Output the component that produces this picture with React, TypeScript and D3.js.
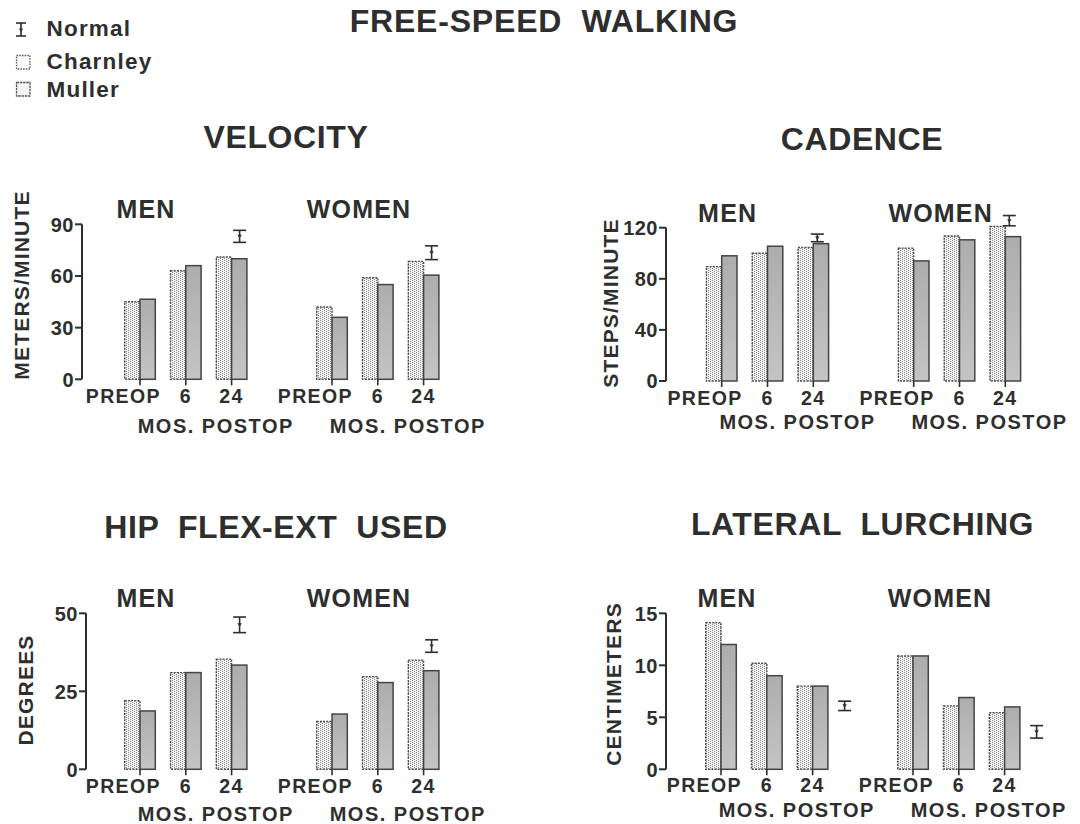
import React from "react";
import * as d3 from "d3";

// ---------- DATA ----------
const categories = ["PREOP", "6", "24"];
const groups = ["MEN", "WOMEN"];
const series = ["Normal", "Charnley", "Muller"];

// Velocity (meters/minute)
const velocityTicks = [0, 30, 60, 90];
const velocityCharnleyMen = [45, 63, 71];
const velocityMullerMen = [46.5, 66, 70];
const velocityCharnleyWomen = [42, 59, 68.5];
const velocityMullerWomen = [36, 55, 60.5];
const velocityNormalMean = [83, 73.5];
const velocityNormalSd = [3.5, 4];

// Cadence (steps/minute)
const cadenceTicks = [0, 40, 80, 120];
const cadenceCharnleyMen = [89.5, 100, 104.5];
const cadenceMullerMen = [98, 105.5, 107.5];
const cadenceCharnleyWomen = [104, 113.5, 121];
const cadenceMullerWomen = [94, 110.5, 113];
const cadenceNormalMean = [112, 125.5];
const cadenceNormalSd = [3, 4];

// Hip flex-ext used (degrees)
const hipTicks = [0, 25, 50];
const hipCharnleyMen = [22, 31, 35.3];
const hipMullerMen = [18.7, 31, 33.4];
const hipCharnleyWomen = [15.3, 29.7, 35];
const hipMullerWomen = [17.7, 27.8, 31.6];
const hipNormalMean = [46.3, 39.5];
const hipNormalSd = [2.5, 2];

// Lateral lurching (centimeters)
const lurchTicks = [0, 5, 10, 15];
const lurchCharnleyMen = [14.1, 10.2, 8];
const lurchMullerMen = [12, 9, 8];
const lurchCharnleyWomen = [10.9, 6.1, 5.45];
const lurchMullerWomen = [10.9, 6.9, 6];
const lurchNormalMean = [6.1, 3.6];
const lurchNormalSd = [0.45, 0.6];

// ---------- LAYOUT / STYLE ----------
const FONT = "'Liberation Sans', Arial, Helvetica, sans-serif";
const INK = "#2e2e2e";
const BAR_W = 15.3;
const STEP = 45.8;
const WOMEN_SHIFT = 192;

type Panel = {
  title: string;
  titleX: number;
  titleY: number;
  yLabel: string;
  yLabelX: number;
  yLabelY: number;
  axisX: number;
  y0: number;
  yTop: number;
  ticks: number[];
  men0: number;
  tickLabelDy: number;
  mosDy: number;
  normalDx: number;
  charnley: number[][];
  muller: number[][];
  normalMean: number[];
  normalSd: number[];
};

const panels: Panel[] = [
  {
    title: "VELOCITY", titleX: 286, titleY: 148,
    yLabel: "METERS/MINUTE", yLabelX: 21.7, yLabelY: 285,
    axisX: 82, y0: 379.3, yTop: 224.3, ticks: velocityTicks, men0: 140,
    tickLabelDy: 23.5, mosDy: 54, normalDx: 8,
    charnley: [velocityCharnleyMen, velocityCharnleyWomen],
    muller: [velocityMullerMen, velocityMullerWomen],
    normalMean: velocityNormalMean, normalSd: velocityNormalSd,
  },
  {
    title: "CADENCE", titleX: 862, titleY: 150,
    yLabel: "STEPS/MINUTE", yLabelX: 610, yLabelY: 303,
    axisX: 666, y0: 381, yTop: 227.7, ticks: cadenceTicks, men0: 721.7,
    tickLabelDy: 24, mosDy: 47.5, normalDx: 4,
    charnley: [cadenceCharnleyMen, cadenceCharnleyWomen],
    muller: [cadenceMullerMen, cadenceMullerWomen],
    normalMean: cadenceNormalMean, normalSd: cadenceNormalSd,
  },
  {
    title: "HIP  FLEX-EXT  USED", titleX: 276, titleY: 538,
    yLabel: "DEGREES", yLabelX: 25, yLabelY: 690,
    axisX: 86, y0: 769.3, yTop: 613.3, ticks: hipTicks, men0: 140,
    tickLabelDy: 23.5, mosDy: 51.5, normalDx: 8,
    charnley: [hipCharnleyMen, hipCharnleyWomen],
    muller: [hipMullerMen, hipMullerWomen],
    normalMean: hipNormalMean, normalSd: hipNormalSd,
  },
  {
    title: "LATERAL  LURCHING", titleX: 862.5, titleY: 535,
    yLabel: "CENTIMETERS", yLabelX: 613, yLabelY: 684,
    axisX: 666, y0: 769.3, yTop: 613.3, ticks: lurchTicks, men0: 721,
    tickLabelDy: 22.5, mosDy: 47.5, normalDx: 32,
    charnley: [lurchCharnleyMen, lurchCharnleyWomen],
    muller: [lurchMullerMen, lurchMullerWomen],
    normalMean: lurchNormalMean, normalSd: lurchNormalSd,
  },
];

function ErrorBar({ x, yHi, yLo, yMid, half }: { x: number; yHi: number; yLo: number; yMid: number; half: number }) {
  return (
    <g stroke={INK} strokeWidth={1.6} fill="none">
      <line x1={x} x2={x} y1={yHi} y2={yLo} />
      <line x1={x - half} x2={x + half} y1={yHi} y2={yHi} />
      <line x1={x - half} x2={x + half} y1={yLo} y2={yLo} />
      <path d={`M${x - 2.2},${yMid - 1.5} L${x + 2.2},${yMid - 1.5} L${x},${yMid + 1.8} Z`} fill={INK} stroke="none" />
    </g>
  );
}

function PanelView({ p }: { p: Panel }) {
  const max = p.ticks[p.ticks.length - 1];
  const y = d3.scaleLinear().domain([0, max]).range([p.y0, p.yTop]);
  const xs = groups.map((_, gi) =>
    d3.scalePoint<string>().domain(categories).range([p.men0 + gi * WOMEN_SHIFT, p.men0 + gi * WOMEN_SHIFT + 2 * STEP])
  );
  const capH = 0.716 * 21;
  return (
    <g>
      <text x={p.titleX} y={p.titleY} textAnchor="middle" fontSize={32} fontWeight="bold" fill={INK}
        letterSpacing={0.6} style={{ whiteSpace: "pre" }}>{p.title}</text>
      <text transform={`translate(${p.yLabelX + capH / 2},${p.yLabelY}) rotate(-90)`} textAnchor="middle"
        fontSize={21} fontWeight="bold" fill={INK} letterSpacing={1.2}>{p.yLabel}</text>
      {/* y axis */}
      <line x1={p.axisX} x2={p.axisX} y1={y(0)} y2={y(max)} stroke={INK} strokeWidth={2} />
      {p.ticks.map((t) => (
        <g key={t}>
          <line x1={p.axisX - 7} x2={p.axisX} y1={y(t)} y2={y(t)} stroke={INK} strokeWidth={2} />
          <text x={p.axisX - 8} y={y(t)} dy="0.36em" textAnchor="end" fontSize={20} fontWeight="bold" fill={INK}
            letterSpacing={0.5}>{t}</text>
        </g>
      ))}
      {groups.map((g, gi) => {
        const x = xs[gi];
        const cx0 = x(categories[0])!;
        const cx1 = x(categories[1])!;
        const cx2 = x(categories[2])!;
        return (
          <g key={g}>
            <text x={cx0 + (gi === 0 ? 6 : 27)} y={p.yTop - 6}
              textAnchor="middle" fontSize={25} fontWeight="bold" fill={INK} letterSpacing={1.2}>{g}</text>
            {categories.map((c, ci) => {
              const cx = x(c)!;
              const vc = p.charnley[gi][ci];
              const vm = p.muller[gi][ci];
              return (
                <g key={c}>
                  <rect x={cx - BAR_W} y={y(vc)} width={BAR_W} height={y(0) - y(vc)} fill="url(#stipple)"
                    stroke="#4a4a4a" strokeWidth={1.4} strokeDasharray="2 1.2" />
                  <rect x={cx} y={y(vm)} width={BAR_W} height={y(0) - y(vm)} fill="url(#mullerGrad)"
                    stroke="#444" strokeWidth={1.5} />
                  <line x1={cx} x2={cx} y1={y(0)} y2={y(0) + 6} stroke={INK} strokeWidth={1.6} />
                  <text x={ci === 0 ? cx + 21 : cx} y={p.y0 + p.tickLabelDy} textAnchor={ci === 0 ? "end" : "middle"}
                    fontSize={19.5} fontWeight="bold" fill={INK} letterSpacing={1.4}>{c}</text>
                </g>
              );
            })}
            <text x={cx1 + 30} y={p.y0 + p.mosDy} textAnchor="middle" fontSize={20} fontWeight="bold" fill={INK}
              letterSpacing={1.5}>MOS. POSTOP</text>
            <ErrorBar x={cx2 + p.normalDx}
              yHi={y(p.normalMean[gi] + p.normalSd[gi])}
              yLo={y(p.normalMean[gi] - p.normalSd[gi])}
              yMid={y(p.normalMean[gi])} half={6.5} />
          </g>
        );
      })}
    </g>
  );
}

export default function App() {
  return (
    <svg width={1080} height={824} style={{ position: "absolute", left: 0, top: 0, background: "#fff" }}
      fontFamily={FONT}>
      <defs>
        <pattern id="stipple" width={4} height={2} patternUnits="userSpaceOnUse">
          <rect width={4} height={2} fill="#f3f3f3" />
          <rect x={0} y={0} width={1} height={1} fill="#8a8a8a" />
          <rect x={2} y={1} width={1} height={1} fill="#8a8a8a" />
        </pattern>
        <linearGradient id="mullerGrad" x1="0" y1="0" x2="0" y2="1">
          <stop offset="0" stopColor="#adadad" />
          <stop offset="1" stopColor="#c4c4c4" />
        </linearGradient>
      </defs>
      <rect width={1080} height={824} fill="#fff" />
      <text x={544} y={31.5} textAnchor="middle" fontSize={32} fontWeight="bold" fill={INK} letterSpacing={0.8}
        style={{ whiteSpace: "pre" }}>FREE-SPEED  WALKING</text>
      {/* legend */}
      <g>
        <ErrorBar x={21} yHi={23} yLo={36} yMid={30} half={5} />
        <rect x={16.5} y={55.5} width={13.5} height={13.5} fill="#fafafa" stroke="#555" strokeWidth={1.3} strokeDasharray="1.5 1.2" />
        <rect x={16.5} y={82.5} width={13.5} height={13.5} fill="#f4f4f4" stroke="#555" strokeWidth={1.3} strokeDasharray="2.5 0.8" />
        {series.map((s, i) => (
          <text key={s} x={46.5} y={[36, 69.3, 96.7][i]} fontSize={22.5} fontWeight="bold" fill={INK} letterSpacing={1.2}>{s}</text>
        ))}
      </g>
      {panels.map((p) => <PanelView key={p.title} p={p} />)}
    </svg>
  );
}
